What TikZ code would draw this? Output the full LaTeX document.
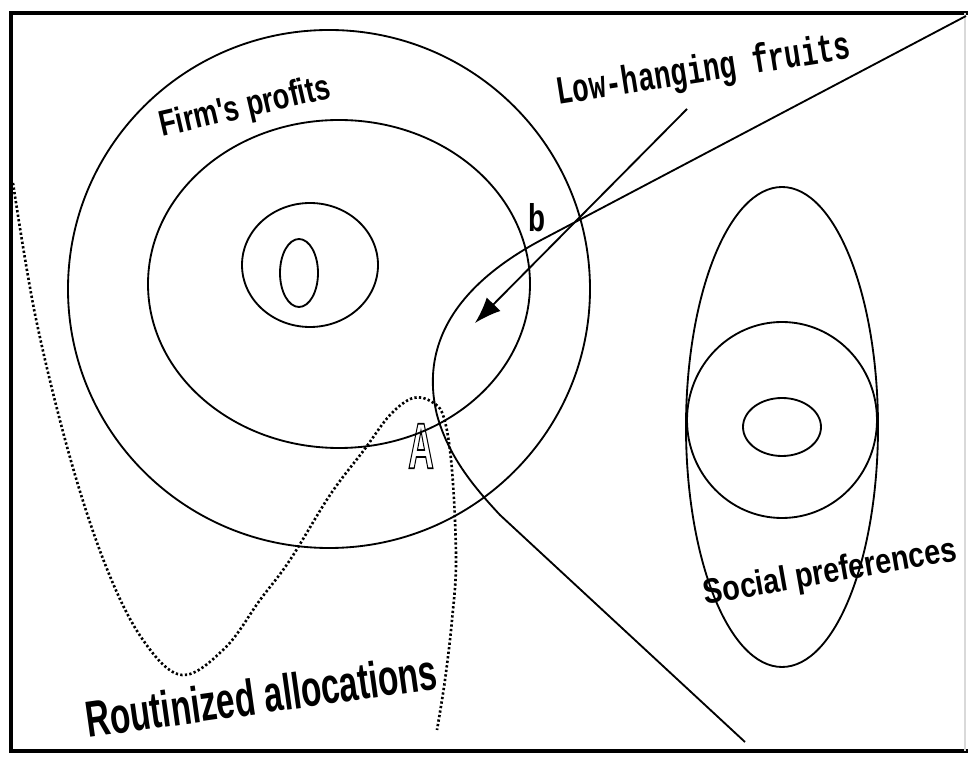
\documentclass[tikz,border=0pt]{standalone}
\usepackage{fontspec}
\setmainfont{Liberation Sans}
\newfontfamily\typewriter{Liberation Mono}
\usetikzlibrary{arrows.meta,positioning}

\begin{document}
\begin{tikzpicture}[x=0.02cm,y=-0.02cm,line width=1.05pt,
  dotcurve/.style={line width=1.5pt,dash pattern=on 1.3pt off 1.3pt},
  lbl/.style={font=\bfseries,inner sep=0pt}]
  \useasboundingbox (0,0) rectangle (968,763);

  % Frame
  \draw[line width=2.3pt] (968,13) -- (11,13) -- (11,751) -- (968,751);
  \draw[gray!30,line width=0.6pt] (965,13) -- (965,751);

  % Firm's profits contours
  \draw (329,289) ellipse [x radius=261,y radius=259];
  \draw (339,284) ellipse [x radius=191,y radius=164];
  \draw (310,265) ellipse [x radius=68,y radius=62];
  \draw (299,273) ellipse [x radius=19,y radius=34];

  % Social preferences contours
  \draw (782,427) ellipse [x radius=96,y radius=240];
  \draw (782,420) ellipse [x radius=95,y radius=98];
  \draw (782,427) ellipse [x radius=39,y radius=29];

  % Frontier through b and A
  \draw (966,16) -- (545,238) .. controls (455,285) and (420,345) .. (437,415)
    .. controls (448,455) and (472,485) .. (500,515) -- (745,742);

  % Routinized allocations
  \draw[dotcurve] plot[smooth,tension=0.6] coordinates {(13,183) (36,319) (71,461)
    (107,569) (143,640) (182,675) (225,648) (260,600) (290,560) (330,495) (364,450)
    (390,415) (413,398) (432,402) (444,418) (452,470) (456,560) (452,620) (445,680)
    (437,730)};

  % Labels
  \node[lbl, rotate=13, xscale=0.76, anchor=base west] (firm) at (162,137)
    {\fontsize{20.5pt}{22pt}\selectfont Firm\textquotesingle s profits};
  \node[lbl, rotate=9, xscale=0.69, anchor=base west] (fruits) at (558,105)
    {\fontsize{22.7pt}{24pt}\selectfont\typewriter Low-hanging fruits};
  \node[lbl, rotate=8, xscale=0.655, anchor=base west] (routine) at (88,738)
    {\fontsize{29pt}{31pt}\selectfont Routinized allocations};
  \node[lbl, rotate=10, xscale=0.82, anchor=base west] (social) at (705,605)
    {\fontsize{20pt}{22pt}\selectfont Social preferences};
  \node[lbl, xscale=0.72] (pointb) at (537,218) {\fontsize{22pt}{24pt}\selectfont b};
  \node[lbl, xscale=0.55] (pointA) at (421,446)
    {\fontsize{37pt}{39pt}\selectfont\special{pdf:literal direct 1 Tr 1 w}A\special{pdf:literal direct 0 Tr}};

  % Arrow to the low-hanging fruits
  \coordinate (fruitsfrom) at (687,109);
  \coordinate (fruitsto) at (475,323);
  \draw[-{Latex[length=15pt,width=11pt]}] (fruitsfrom) -- (fruitsto);
\end{tikzpicture}
\end{document}
